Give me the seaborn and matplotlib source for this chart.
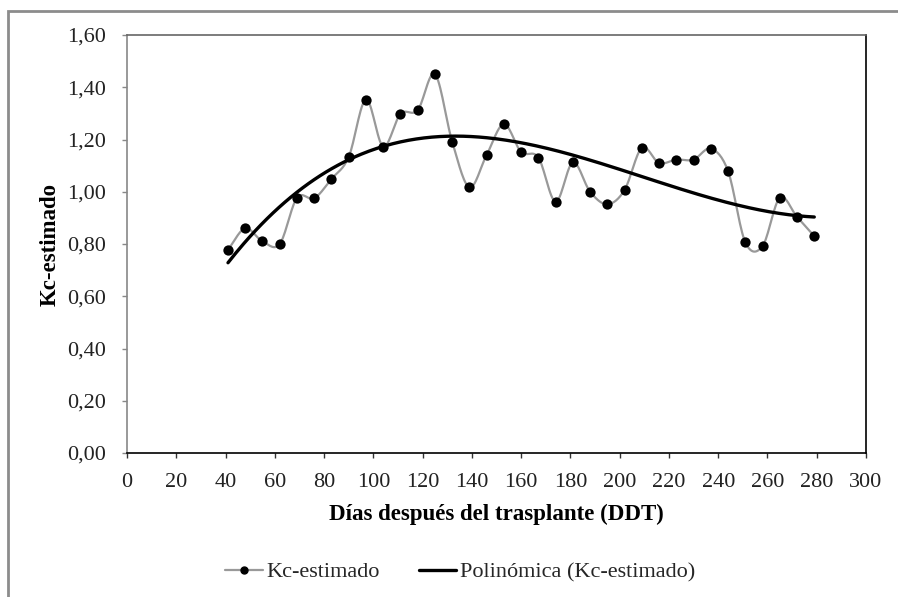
import numpy as np
import pandas as pd
import matplotlib
matplotlib.use("Agg")
import matplotlib.pyplot as plt
import seaborn as sns
from matplotlib.lines import Line2D
from matplotlib.patches import Rectangle
from matplotlib.ticker import FuncFormatter

# ---- data ----
dias = [41, 48, 55, 62, 69, 76, 83, 90, 97, 104, 111, 118, 125, 132, 139, 146,
        153, 160, 167, 174, 181, 188, 195, 202, 209, 216, 223, 230, 237, 244,
        251, 258, 265, 272, 279]
kc = [0.778, 0.860, 0.810, 0.800, 0.977, 0.975, 1.049, 1.133, 1.353, 1.173,
      1.298, 1.312, 1.450, 1.192, 1.017, 1.141, 1.259, 1.152, 1.131, 0.962,
      1.112, 1.000, 0.952, 1.007, 1.168, 1.110, 1.123, 1.123, 1.165, 1.079,
      0.807, 0.792, 0.977, 0.904, 0.830]
x_ticks = list(range(0, 301, 20))
y_ticks = [0.0, 0.2, 0.4, 0.6, 0.8, 1.0, 1.2, 1.4, 1.6]
label_serie = "Kc-estimado"
label_trend = "Polinómica (Kc-estimado)"
x_title = "Días después del trasplante (DDT)"
y_title = "Kc-estimado"

df = pd.DataFrame({"dias": dias, "kc": kc})

# smoothed line through the points (Excel-like smoothing, Catmull-Rom)
def catmull_rom(x, y, n=16):
    x = np.asarray(x, float); y = np.asarray(y, float)
    px = np.concatenate([[2 * x[0] - x[1]], x, [2 * x[-1] - x[-2]]])
    py = np.concatenate([[2 * y[0] - y[1]], y, [2 * y[-1] - y[-2]]])
    xs, ys = [], []
    t = np.linspace(0, 1, n, endpoint=False)
    for i in range(1, len(px) - 2):
        for p, out in ((px, xs), (py, ys)):
            p0, p1, p2, p3 = p[i - 1], p[i], p[i + 1], p[i + 2]
            out.extend(0.5 * ((2 * p1) + (-p0 + p2) * t
                              + (2 * p0 - 5 * p1 + 4 * p2 - p3) * t ** 2
                              + (-p0 + 3 * p1 - 3 * p2 + p3) * t ** 3))
    xs.append(x[-1]); ys.append(y[-1])
    return np.array(xs), np.array(ys)

sx, sy = catmull_rom(df["dias"], df["kc"])
smooth_df = pd.DataFrame({"dias": sx, "kc": sy})

# polynomial (order 3) trend line
coef = np.polyfit(df["dias"], df["kc"], 3)
tx = np.linspace(min(dias), max(dias), 300)
trend_df = pd.DataFrame({"dias": tx, "kc": np.polyval(coef, tx)})

# ---- figure ----
sns.set_theme(style="white")
plt.rcParams["font.family"] = ["Liberation Serif", "DejaVu Serif"]

fig = plt.figure(figsize=(8.98, 5.97), dpi=100)
ax = fig.add_axes([127 / 898, 1 - 453 / 597, (866 - 127) / 898, (453 - 35) / 597])

sns.lineplot(data=smooth_df, x="dias", y="kc", ax=ax, color="#999999",
             linewidth=1.6, estimator=None, sort=False, zorder=2)
sns.scatterplot(data=df, x="dias", y="kc", ax=ax, color="black", s=55,
                edgecolor="black", linewidth=0, zorder=3)
sns.lineplot(data=trend_df, x="dias", y="kc", ax=ax, color="black",
             linewidth=2.4, estimator=None, zorder=4)

ax.set_xlim(0, 300)
ax.set_ylim(0, 1.6)
ax.set_xticks(x_ticks)
ax.set_yticks(y_ticks)
ax.yaxis.set_major_formatter(FuncFormatter(lambda v, p: f"{v:.2f}".replace(".", ",")))
ax.tick_params(axis="both", which="major", labelsize=16, direction="out",
               length=3.6, width=1, color="#888888", labelcolor="#222222",
               bottom=True, left=True)
ax.tick_params(axis="y", pad=11.5)
ax.tick_params(axis="x", color="#333333", pad=10.8)

ax.spines["left"].set_color("#888888")
ax.spines["top"].set_color("#666666")
ax.spines["right"].set_color("black")
ax.spines["bottom"].set_color("black")
for s in ax.spines.values():
    s.set_linewidth(1.2)
    s.set_visible(True)

ax.set_xlabel(x_title, fontsize=16.5, fontweight="bold", color="black", labelpad=8.5)
ax.set_ylabel(y_title, fontsize=16.5, fontweight="bold", color="black", labelpad=5)

handles = [
    Line2D([], [], color="#999999", linewidth=1.6, marker="o",
           markerfacecolor="black", markeredgecolor="black", markersize=5),
    Line2D([], [], color="black", linewidth=2.4),
]
fig.legend(handles, [label_serie, label_trend], loc="center",
           bbox_to_anchor=(460 / 898, 1 - 572 / 597), ncol=2, frameon=False,
           fontsize=16, handlelength=1.7, handletextpad=0.15, columnspacing=1.75)

fig.patches.append(Rectangle((8 / 898, -0.05), 1.2, 1 - 11 / 597 + 0.05,
                             transform=fig.transFigure, fill=False,
                             edgecolor="#8c8c8c", linewidth=2, zorder=0))

fig.savefig("out.png", dpi=100)
